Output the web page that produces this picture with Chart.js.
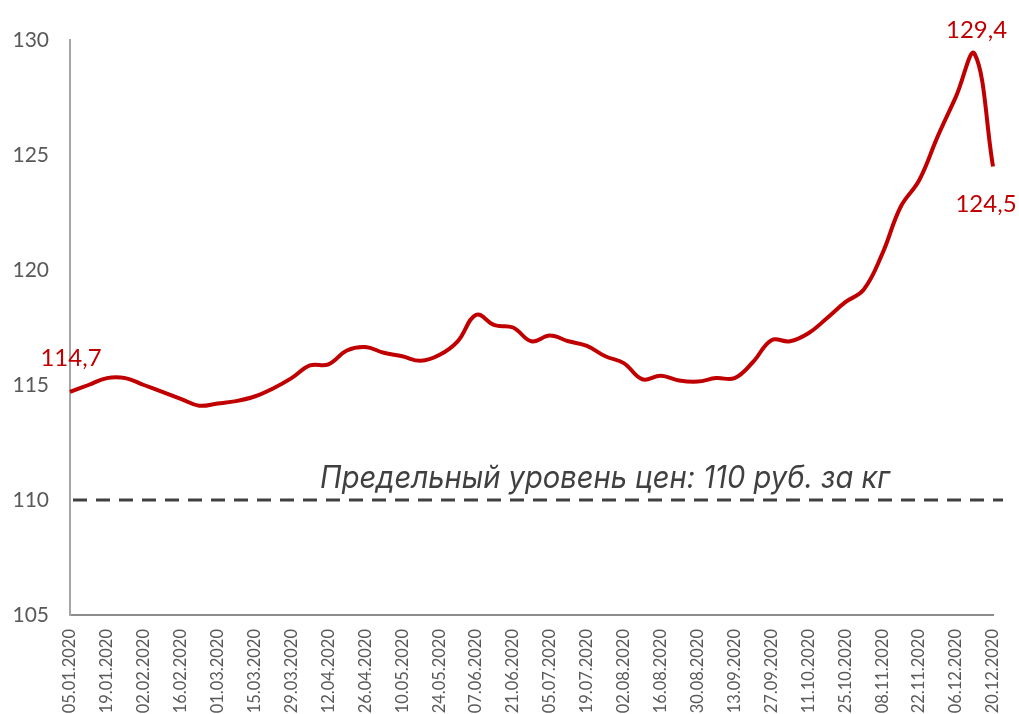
<!DOCTYPE html>
<html>
<head>
<meta charset="utf-8">
<script src="https://cdn.jsdelivr.net/npm/chart.js@4"></script>
<style>
  html, body { margin: 0; padding: 0; background: #fff; }
  #wrap { width: 1019px; height: 714px; }
</style>
</head>
<body>
<div id="wrap"><canvas id="myChart" width="1019" height="714"></canvas></div>
<script>
// недельные даты (подписи на оси - через одну)
const fechas = [
  '05.01.2020','12.01.2020','19.01.2020','26.01.2020','02.02.2020','09.02.2020','16.02.2020','23.02.2020',
  '01.03.2020','08.03.2020','15.03.2020','22.03.2020','29.03.2020','05.04.2020','12.04.2020','19.04.2020',
  '26.04.2020','03.05.2020','10.05.2020','17.05.2020','24.05.2020','31.05.2020','07.06.2020','14.06.2020',
  '21.06.2020','28.06.2020','05.07.2020','12.07.2020','19.07.2020','26.07.2020','02.08.2020','09.08.2020',
  '16.08.2020','23.08.2020','30.08.2020','06.09.2020','13.09.2020','20.09.2020','27.09.2020','04.10.2020',
  '11.10.2020','18.10.2020','25.10.2020','01.11.2020','08.11.2020','15.11.2020','22.11.2020','29.11.2020',
  '06.12.2020','13.12.2020','20.12.2020'
];

const precios = [
  114.7, 115.0, 115.3, 115.3, 115.0, 114.7, 114.4, 114.1,
  114.2, 114.3, 114.5, 114.85, 115.3, 115.85, 115.9, 116.5,
  116.65, 116.4, 116.25, 116.05, 116.3, 116.9, 118.05, 117.6,
  117.5, 116.9, 117.15, 116.9, 116.7, 116.25, 115.95, 115.25,
  115.4, 115.2, 115.15, 115.3, 115.3, 116.0, 116.95, 116.9,
  117.25, 117.9, 118.6, 119.15, 120.7, 122.75, 123.9, 125.8,
  127.55, 129.4, 124.5
];

const limite = 110;
const textoLimite = 'Предельный уровень цен: 110 руб. за кг';
const yTicks = [105, 110, 115, 120, 125, 130];

function fmt(v) {
  return v.toFixed(1).replace('.', ',');
}

// линия предела + подписи
const extras = {
  id: 'extras',
  afterDatasetsDraw(chart) {
    const ctx = chart.ctx;
    const area = chart.chartArea;
    const y = chart.scales.y.getPixelForValue(limite);

    ctx.save();
    ctx.strokeStyle = '#404040';
    ctx.lineWidth = 3;
    ctx.setLineDash([14, 9]);
    ctx.beginPath();
    ctx.moveTo(area.left + 3, y);
    ctx.lineTo(area.right + 10, y);
    ctx.stroke();
    ctx.setLineDash([]);

    // надпись
    ctx.font = 'italic 31px Inter, "Noto Sans", sans-serif';
    ctx.fillStyle = '#404040';
    ctx.textAlign = 'center';
    ctx.textBaseline = 'alphabetic';
    const w = ctx.measureText(textoLimite).width;
    const k = 570 / w;
    ctx.translate(605, y - 12);
    ctx.scale(k, 1);
    ctx.fillText(textoLimite, 0, 0);
    ctx.restore();

    // значения
    const meta = chart.getDatasetMeta(0);
    const n = precios.length;
    const pMax = precios.indexOf(Math.max(...precios));
    ctx.save();
    ctx.font = '24px Lato, "Open Sans", sans-serif';
    ctx.fillStyle = '#c00000';
    ctx.textAlign = 'center';
    ctx.textBaseline = 'middle';
    let p = meta.data[0];
    ctx.fillText(fmt(precios[0]), p.x + 1, p.y - 34);
    p = meta.data[pMax];
    ctx.fillText(fmt(precios[pMax]), p.x + 2, p.y - 24);
    p = meta.data[n - 1];
    ctx.fillText(fmt(precios[n - 1]), p.x - 7, p.y + 38);
    ctx.restore();
  }
};

document.addEventListener("DOMContentLoaded", () => {
  const ctx = document.getElementById('myChart').getContext('2d');
  new Chart(ctx, {
    type: 'line',
    data: {
      labels: fechas,
      datasets: [{
        data: precios,
        borderColor: '#c00000',
        borderWidth: 4,
        pointRadius: 0,
        tension: 0.4,
        fill: false
      }]
    },
    options: {
      responsive: false,
      animation: false,
      layout: { padding: { left: 0, right: 26, top: 40, bottom: 0 } },
      plugins: {
        legend: { display: false },
        tooltip: { enabled: false }
      },
      scales: {
        x: {
          grid: { display: false, drawTicks: false },
          border: { color: '#8c8c8c', width: 2 },
          ticks: {
            autoSkip: false,
            maxRotation: 90,
            minRotation: 90,
            padding: 14,
            color: '#595959',
            font: { size: 16.5, family: 'Lato, "Open Sans", sans-serif' },
            callback: (v, i) => (i % 2 === 0 ? fechas[i] : '')
          },
          afterFit: (scale) => {
            scale.height = 99;
            scale.paddingLeft = 0;
            scale.paddingRight = 0;
          }
        },
        y: {
          min: 105,
          max: 130,
          grid: { display: false, drawTicks: false },
          border: { color: '#a6a6a6', width: 2 },
          afterBuildTicks: (scale) => { scale.ticks = yTicks.map(v => ({ value: v })); },
          ticks: {
            padding: 21,
            color: '#595959',
            font: { size: 21, family: 'Lato, "Open Sans", sans-serif' }
          },
          afterFit: (scale) => { scale.width = 70; }
        }
      }
    },
    plugins: [extras]
  });
});
</script>
</body>
</html>
